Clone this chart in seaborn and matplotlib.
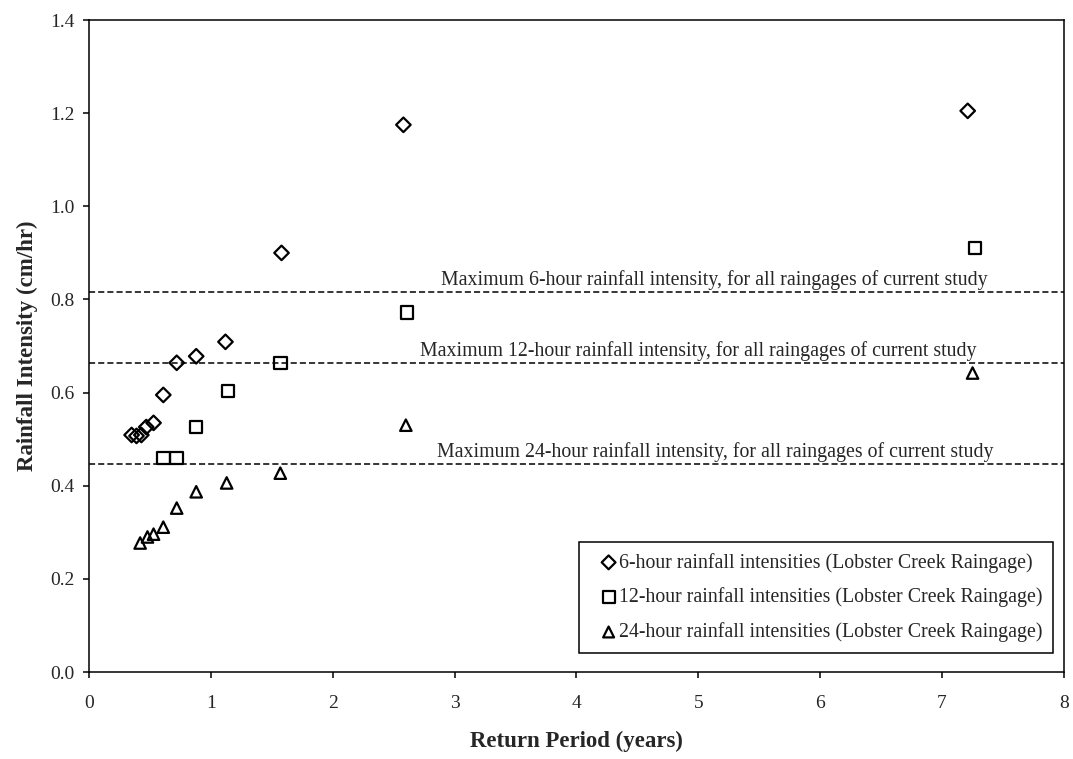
import numpy as np
import pandas as pd
import matplotlib
matplotlib.use("Agg")
import matplotlib.pyplot as plt
import seaborn as sns

# return period (years) and intensity (cm/hr)
rp_6h = [0.35, 0.39, 0.43, 0.47, 0.53, 0.61, 0.72, 0.88, 1.12, 1.58, 2.58, 7.21]
int_6h = [0.509, 0.507, 0.509, 0.526, 0.535, 0.595, 0.664, 0.678, 0.709, 0.90, 1.175, 1.205]

rp_12h = [0.61, 0.72, 0.88, 1.14, 1.57, 2.61, 7.27]
int_12h = [0.46, 0.46, 0.526, 0.603, 0.664, 0.772, 0.911]

rp_24h = [0.42, 0.48, 0.53, 0.61, 0.72, 0.88, 1.13, 1.57, 2.60, 7.25]
int_24h = [0.277, 0.29, 0.296, 0.311, 0.352, 0.387, 0.406, 0.427, 0.53, 0.642]

# study-wide maxima (dashed lines) and their captions
max_levels = [0.816, 0.664, 0.446]
max_labels = ["Maximum 6-hour rainfall intensity, for all raingages of current study",
              "Maximum 12-hour rainfall intensity, for all raingages of current study",
              "Maximum 24-hour rainfall intensity, for all raingages of current study"]
label_right = [7.37, 7.28, 7.42]

series_names = ["6-hour rainfall intensities (Lobster Creek Raingage)",
                "12-hour rainfall intensities (Lobster Creek Raingage)",
                "24-hour rainfall intensities (Lobster Creek Raingage)"]

sns.set_style("ticks")
plt.rcParams['font.family'] = ['Liberation Serif', 'DejaVu Serif']

fig = plt.figure(figsize=(10.73, 7.59), dpi=100)
ax = fig.add_axes([0.0829, 0.1146, 0.9087, 0.859])

for lvl, txt, xr in zip(max_levels, max_labels, label_right):
    ax.axhline(lvl, color='black', linestyle=(0, (4, 2)), linewidth=1.1, zorder=1)
    ax.text(xr, lvl + 0.015, txt, ha='right', va='baseline', fontsize=14.3)

data = [(rp_6h, int_6h, 'D', 55), (rp_12h, int_12h, 's', 80), (rp_24h, int_24h, '^', 68)]
for (xs, ys, mk, sz), name in zip(data, series_names):
    df = pd.DataFrame({"Return Period": xs, "Intensity": ys})
    sns.scatterplot(data=df, x="Return Period", y="Intensity", ax=ax, marker=mk, s=sz,
                    facecolors='none', edgecolor='black', linewidth=1.6, label=name, zorder=3)

ax.set_xlim(0, 8)
ax.set_ylim(0, 1.4)
ax.set_xticks(np.arange(0, 9, 1))
yt = np.arange(0, 1.41, 0.2)
ax.set_yticks(yt)
ax.set_yticklabels([f"{v:.1f}" for v in yt])
ax.tick_params(labelsize=14, length=4.3, width=1.1, color='black', direction='out')
ax.tick_params(axis='x', pad=12)
ax.tick_params(axis='y', pad=6)
for sp in ax.spines.values():
    sp.set_visible(True)
    sp.set_color('black')
    sp.set_linewidth(1.1)

ax.set_xlabel("Return Period (years)", fontsize=16.5, fontweight='bold', labelpad=14)
ax.set_ylabel("Rainfall Intensity (cm/hr)", fontsize=16.5, fontweight='bold', labelpad=9)

leg = ax.legend(loc='lower right', bbox_to_anchor=(0.9887, 0.029), borderaxespad=0,
                fontsize=14.3, frameon=True, fancybox=False, edgecolor='black', framealpha=1,
                borderpad=0.55, handlelength=1.9, handletextpad=-0.45, labelspacing=0.75,
                markerscale=0.95)
leg.get_frame().set_linewidth(1.1)

fig.savefig("out.png", dpi=100)
